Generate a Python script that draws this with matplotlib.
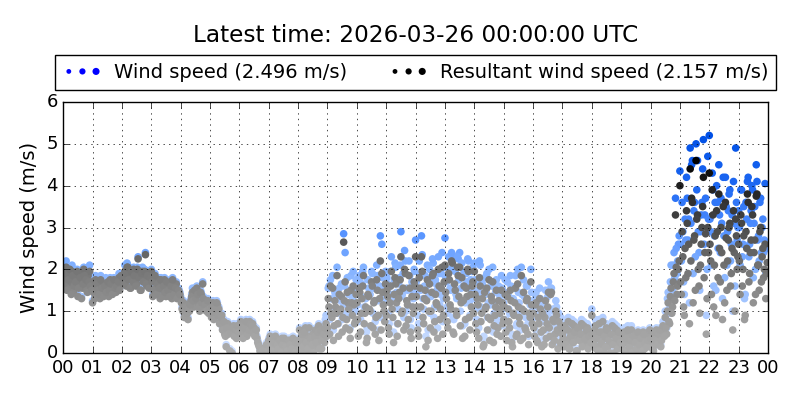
import numpy as np
import matplotlib
matplotlib.use('Agg')
import matplotlib.pyplot as plt
from matplotlib.colors import LinearSegmentedColormap
from matplotlib.legend_handler import HandlerPathCollection

# values, 20 samples per hour at minutes 0, 3, 6, ...
# plus a second set of 20 per hour at minutes 1.5, 4.5, 7.5, ...
hour_labels = ['00', '01', '02', '03', '04', '05', '06', '07', '08', '09', '10', '11',
               '12', '13', '14', '15', '16', '17', '18', '19', '20', '21', '22', '23', '00']

resultant = [
    [1.75, 1.60, 2.05, 1.85, 1.55, 1.70, 1.95, 1.45, 1.80, 1.65, 1.35, 1.90, 1.75, 1.55, 2.00, 1.60, 1.50, 1.85, 1.95, 1.70],
    [1.20, 1.55, 1.75, 1.40, 1.60, 1.30, 1.70, 1.50, 1.45, 1.65, 1.55, 1.35, 1.75, 1.60, 1.50, 1.70, 1.45, 1.65, 1.80, 1.60],
    [1.70, 1.85, 1.95, 1.60, 2.05, 1.80, 1.55, 1.90, 2.00, 1.75, 1.65, 2.25, 1.85, 1.50, 1.95, 1.80, 2.35, 1.60, 1.90, 1.75],
    [1.95, 1.35, 1.80, 1.55, 1.40, 1.75, 1.30, 1.65, 1.50, 1.75, 1.35, 1.60, 1.45, 1.70, 1.30, 1.55, 1.40, 1.65, 1.35, 1.45],
    [1.30, 1.05, 1.20, 0.90, 1.15, 0.80, 1.00, 1.25, 1.45, 1.10, 1.35, 1.55, 1.20, 1.00, 1.40, 1.65, 1.25, 1.05, 1.15, 0.95],
    [1.10, 0.85, 1.20, 1.00, 0.95, 1.15, 1.05, 0.75, 0.90, 0.60, 0.45, 0.15, 0.70, 0.55, 0.50, 0.00, 0.65, 0.45, 0.35, 0.55],
    [0.60, 0.75, 0.45, 0.70, 0.55, 0.40, 0.65, 0.75, 0.50, 0.70, 0.60, 0.45, 0.35, 0.20, 0.05, 0.00, 0.10, 0.00, 0.05, 0.15],
    [0.30, 0.40, 0.20, 0.35, 0.10, 0.25, 0.00, 0.30, 0.15, 0.35, 0.05, 0.25, 0.20, 0.10, 0.30, 0.00, 0.15, 0.25, 0.05, 0.20],
    [0.10, 0.55, 0.20, 0.35, 0.00, 0.60, 0.25, 0.40, 0.05, 0.30, 0.45, 0.15, 0.55, 0.20, 0.65, 0.35, 0.10, 0.50, 0.25, 0.70],
    [0.60, 1.10, 1.60, 0.85, 0.30, 1.25, 0.95, 0.70, 1.40, 1.05, 0.50, 2.65, 1.70, 0.80, 1.20, 0.55, 1.50, 0.90, 1.15, 0.75],
    [1.20, 0.40, 1.45, 0.95, 1.60, 0.70, 1.10, 0.35, 1.35, 1.00, 1.70, 0.60, 1.25, 0.85, 1.50, 0.30, 2.20, 1.90, 1.15, 0.75],
    [0.90, 1.35, 0.45, 1.60, 1.05, 0.25, 1.80, 1.20, 0.70, 1.45, 2.30, 1.00, 0.55, 1.90, 1.25, 0.80, 1.55, 0.35, 1.10, 1.70],
    [2.30, 1.10, 0.40, 1.55, 2.30, 0.85, 1.30, 0.15, 1.75, 1.00, 0.60, 1.45, 1.90, 0.75, 1.20, 0.35, 1.60, 1.05, 2.05, 0.90],
    [2.10, 1.30, 0.60, 1.75, 1.05, 2.15, 0.45, 1.50, 0.90, 1.85, 2.05, 1.20, 0.35, 1.60, 0.80, 1.35, 1.95, 0.55, 1.10, 1.70],
    [1.95, 0.70, 1.30, 0.35, 1.60, 0.95, 0.15, 1.45, 1.10, 0.55, 1.75, 0.80, 1.25, 0.25, 0.90, 1.50, 0.60, 1.05, 0.40, 1.20],
    [0.80, 1.40, 0.30, 1.05, 0.60, 1.25, 0.15, 0.90, 1.55, 0.45, 1.10, 0.70, 1.85, 0.35, 1.00, 0.55, 1.30, 0.20, 0.85, 1.15],
    [0.95, 0.40, 1.20, 0.25, 0.70, 1.05, 0.15, 0.55, 0.85, 0.35, 1.10, 0.60, 1.40, 0.20, 0.75, 0.45, 0.90, 0.10, 0.50, 0.65],
    [0.45, 0.15, 0.60, 0.30, 0.75, 0.10, 0.50, 0.25, 0.65, 0.35, 0.05, 0.55, 0.40, 0.70, 0.20, 0.45, 0.30, 0.60, 0.15, 0.50],
    [0.90, 0.30, 0.55, 0.10, 0.40, 0.70, 0.20, 0.50, 0.05, 0.35, 0.60, 0.15, 0.45, 0.25, 0.65, 0.00, 0.40, 0.55, 0.20, 0.30],
    [0.35, 0.10, 0.50, 0.25, 0.00, 0.40, 0.15, 0.55, 0.30, 0.05, 0.45, 0.20, 0.35, 0.00, 0.25, 0.50, 0.10, 0.30, 0.40, 0.15],
    [0.20, 0.45, 0.05, 0.35, 0.55, 0.25, 0.40, 0.15, 0.50, 0.60, 0.85, 0.45, 1.20, 0.70, 1.55, 1.10, 1.90, 3.30, 1.40, 2.00],
    [4.00, 1.40, 2.30, 0.90, 1.80, 3.10, 2.60, 4.40, 3.70, 1.20, 2.80, 4.60, 3.30, 1.60, 2.10, 3.00, 4.20, 2.40, 0.45, 3.00],
    [4.30, 2.20, 3.90, 1.10, 2.80, 3.40, 1.80, 2.50, 3.00, 0.80, 2.10, 3.60, 1.50, 2.70, 3.10, 1.90, 0.55, 2.40, 3.20, 2.00],
    [2.60, 1.40, 3.10, 2.00, 0.80, 2.90, 3.80, 1.70, 2.40, 3.50, 1.20, 2.70, 3.75, 2.10, 1.50, 3.00, 2.30, 1.80, 2.60, 1.90],
]

wind_speed = [
    [1.80, 1.65, 2.20, 1.90, 1.60, 1.75, 2.10, 1.50, 1.85, 1.70, 1.40, 1.95, 1.85, 1.60, 2.05, 1.65, 1.55, 1.90, 2.10, 1.75],
    [1.25, 1.65, 1.85, 1.45, 1.70, 1.35, 1.75, 1.55, 1.50, 1.80, 1.60, 1.40, 1.80, 1.65, 1.55, 1.75, 1.50, 1.70, 1.90, 1.65],
    [1.75, 1.90, 2.10, 1.65, 2.10, 1.85, 1.60, 1.95, 2.05, 1.80, 1.70, 2.30, 1.95, 1.55, 2.05, 1.85, 2.40, 1.65, 1.95, 1.80],
    [2.00, 1.40, 1.85, 1.60, 1.45, 1.80, 1.35, 1.70, 1.55, 1.80, 1.40, 1.65, 1.50, 1.75, 1.35, 1.60, 1.45, 1.70, 1.40, 1.50],
    [1.35, 1.10, 1.25, 0.95, 1.20, 0.85, 1.05, 1.30, 1.55, 1.15, 1.40, 1.60, 1.25, 1.05, 1.45, 1.70, 1.30, 1.10, 1.20, 1.00],
    [1.15, 0.90, 1.25, 1.05, 1.00, 1.20, 1.10, 0.80, 0.95, 0.65, 0.50, 0.20, 0.75, 0.60, 0.55, 0.05, 0.70, 0.50, 0.40, 0.60],
    [0.65, 0.80, 0.50, 0.75, 0.60, 0.45, 0.70, 0.80, 0.55, 0.75, 0.65, 0.50, 0.40, 0.25, 0.10, 0.05, 0.15, 0.05, 0.10, 0.20],
    [0.35, 0.45, 0.25, 0.40, 0.15, 0.30, 0.05, 0.35, 0.20, 0.40, 0.10, 0.30, 0.25, 0.15, 0.35, 0.05, 0.20, 0.30, 0.10, 0.25],
    [0.15, 0.60, 0.25, 0.40, 0.05, 0.65, 0.30, 0.45, 0.10, 0.35, 0.50, 0.20, 0.60, 0.25, 0.70, 0.40, 0.15, 0.60, 0.30, 0.90],
    [0.90, 1.60, 1.75, 1.30, 0.55, 1.45, 1.40, 0.95, 1.55, 1.25, 0.80, 2.85, 2.40, 1.15, 1.50, 0.90, 1.85, 1.30, 1.45, 1.00],
    [1.40, 0.75, 1.70, 1.35, 1.95, 1.10, 1.30, 0.60, 1.55, 1.40, 1.95, 0.95, 1.60, 1.25, 1.85, 0.55, 2.80, 2.60, 1.55, 1.20],
    [1.30, 1.65, 0.70, 1.95, 1.40, 0.50, 2.15, 1.45, 1.05, 1.80, 2.90, 1.40, 0.85, 2.20, 1.55, 1.15, 1.85, 0.60, 1.50, 2.00],
    [2.70, 1.45, 0.70, 1.85, 2.80, 1.30, 1.60, 0.40, 2.10, 1.40, 0.95, 1.80, 2.15, 1.10, 1.65, 0.60, 1.90, 1.40, 2.40, 1.30],
    [2.75, 1.70, 0.95, 2.00, 1.50, 2.35, 0.80, 1.95, 1.30, 2.25, 2.40, 1.55, 0.65, 1.95, 1.20, 1.70, 2.20, 0.90, 1.50, 2.05],
    [2.15, 1.05, 1.70, 0.60, 2.10, 1.35, 0.35, 1.80, 1.45, 0.85, 2.00, 1.15, 1.60, 0.50, 1.20, 1.75, 0.90, 1.40, 0.65, 1.55],
    [1.20, 1.75, 0.55, 1.40, 0.95, 1.60, 0.35, 1.25, 1.85, 0.70, 1.45, 1.00, 2.05, 0.60, 1.35, 0.85, 1.60, 0.40, 1.15, 1.45],
    [1.25, 0.60, 1.45, 0.45, 0.95, 1.30, 0.30, 0.75, 1.10, 0.55, 1.35, 0.85, 1.55, 0.35, 1.00, 0.65, 1.10, 0.20, 0.70, 0.85],
    [0.55, 0.20, 0.70, 0.40, 0.85, 0.15, 0.60, 0.30, 0.75, 0.45, 0.10, 0.65, 0.50, 0.80, 0.25, 0.55, 0.35, 0.70, 0.20, 0.60],
    [1.05, 0.35, 0.65, 0.15, 0.50, 0.80, 0.25, 0.60, 0.10, 0.40, 0.70, 0.20, 0.55, 0.30, 0.75, 0.05, 0.50, 0.65, 0.25, 0.35],
    [0.40, 0.15, 0.60, 0.30, 0.05, 0.45, 0.20, 0.65, 0.35, 0.10, 0.50, 0.25, 0.40, 0.05, 0.30, 0.55, 0.15, 0.35, 0.45, 0.20],
    [0.25, 0.50, 0.10, 0.40, 0.60, 0.30, 0.45, 0.20, 0.55, 0.70, 1.00, 0.60, 1.45, 0.95, 2.10, 1.50, 2.40, 3.70, 1.90, 2.60],
    [4.35, 2.20, 2.90, 1.40, 2.70, 3.70, 3.20, 4.90, 4.50, 1.90, 3.60, 5.00, 4.60, 2.40, 2.90, 3.60, 5.10, 3.30, 0.90, 4.70],
    [5.20, 2.90, 4.30, 1.60, 3.60, 4.00, 2.50, 3.30, 3.70, 1.30, 2.80, 4.20, 2.10, 3.40, 3.90, 2.60, 1.00, 3.10, 4.90, 2.70],
    [3.40, 2.10, 3.90, 2.60, 1.30, 3.60, 4.10, 2.30, 3.10, 4.00, 1.80, 3.50, 4.50, 2.70, 2.20, 3.70, 3.00, 2.40, 4.05, 2.50],
]

resultant_b = [
    [1.65, 1.90, 1.50, 1.75, 2.00, 1.40, 1.85, 1.60, 1.70, 1.95, 1.55, 1.80, 1.30, 1.65, 1.85, 1.75, 1.45, 1.70, 1.60, 1.50],
    [1.45, 1.30, 1.65, 1.50, 1.40, 1.75, 1.55, 1.35, 1.60, 1.45, 1.70, 1.50, 1.65, 1.40, 1.75, 1.55, 1.60, 1.70, 1.50, 1.85],
    [1.80, 1.65, 1.90, 2.05, 1.75, 1.55, 1.95, 1.70, 1.85, 1.60, 2.00, 1.80, 1.50, 1.90, 1.70, 1.95, 1.65, 1.85, 1.55, 1.80],
    [1.70, 1.50, 1.85, 1.40, 1.65, 1.55, 1.75, 1.35, 1.60, 1.45, 1.70, 1.50, 1.35, 1.60, 1.75, 1.40, 1.55, 1.30, 1.50, 1.40],
    [1.20, 1.00, 0.85, 1.10, 0.95, 1.05, 1.15, 1.35, 1.25, 1.50, 1.30, 1.40, 1.10, 1.45, 1.20, 1.30, 1.15, 1.00, 1.25, 1.05],
    [0.95, 1.10, 0.80, 1.05, 1.20, 0.90, 0.70, 0.85, 0.55, 0.75, 0.40, 0.60, 0.45, 0.05, 0.50, 0.60, 0.40, 0.55, 0.65, 0.50],
    [0.50, 0.65, 0.35, 0.60, 0.75, 0.45, 0.55, 0.70, 0.65, 0.50, 0.40, 0.55, 0.25, 0.15, 0.00, 0.05, 0.00, 0.10, 0.20, 0.05],
    [0.15, 0.35, 0.05, 0.25, 0.40, 0.20, 0.10, 0.30, 0.00, 0.20, 0.35, 0.15, 0.05, 0.30, 0.20, 0.10, 0.35, 0.00, 0.25, 0.30],
    [0.30, 0.05, 0.45, 0.15, 0.50, 0.25, 0.10, 0.60, 0.35, 0.20, 0.00, 0.40, 0.25, 0.50, 0.10, 0.55, 0.30, 0.45, 0.60, 0.40],
    [1.30, 0.45, 0.95, 1.55, 0.65, 1.10, 1.85, 0.40, 1.00, 1.35, 0.85, 1.25, 0.60, 1.45, 1.05, 0.35, 1.20, 1.60, 0.70, 1.40],
    [0.80, 1.55, 0.50, 1.30, 1.85, 0.95, 0.25, 1.40, 1.05, 0.65, 1.60, 1.20, 0.45, 1.75, 0.90, 1.30, 0.55, 1.45, 1.00, 1.65],
    [1.50, 0.60, 1.20, 1.95, 0.85, 1.40, 1.65, 0.40, 1.30, 1.75, 0.95, 1.55, 2.00, 0.65, 1.15, 1.85, 0.50, 1.35, 0.95, 1.60],
    [1.35, 0.55, 1.80, 1.10, 1.95, 0.70, 1.50, 1.25, 0.30, 1.65, 1.00, 1.85, 0.50, 1.40, 1.15, 2.00, 0.80, 1.55, 0.45, 1.70],
    [1.45, 0.75, 1.90, 1.15, 2.20, 0.50, 1.65, 1.00, 2.05, 1.35, 0.65, 1.80, 1.25, 0.40, 1.55, 2.00, 0.85, 1.40, 1.60, 0.95],
    [1.40, 0.50, 1.15, 1.80, 0.75, 1.30, 0.20, 1.05, 1.55, 0.85, 0.30, 1.35, 1.70, 0.65, 1.10, 0.45, 1.25, 0.95, 1.50, 0.70],
    [1.10, 0.50, 1.35, 0.75, 1.50, 0.25, 0.95, 1.20, 0.40, 1.65, 0.85, 0.30, 1.05, 1.45, 0.60, 1.25, 0.45, 0.95, 1.70, 0.70],
    [0.60, 1.15, 0.30, 0.85, 1.30, 0.50, 0.95, 0.20, 1.25, 0.70, 1.45, 0.40, 1.45, 0.80, 0.30, 1.00, 0.55, 0.75, 0.25, 0.60],
    [0.35, 0.65, 0.20, 0.55, 0.10, 0.40, 0.70, 0.25, 0.50, 0.05, 0.60, 0.30, 0.45, 0.15, 0.65, 0.35, 0.55, 0.10, 0.40, 0.25],
    [0.45, 0.20, 0.65, 0.35, 0.05, 0.50, 0.25, 0.75, 0.40, 0.15, 0.55, 0.30, 0.00, 0.45, 0.20, 0.60, 0.35, 0.10, 0.50, 0.25],
    [0.20, 0.45, 0.05, 0.35, 0.55, 0.15, 0.30, 0.00, 0.40, 0.25, 0.10, 0.50, 0.20, 0.35, 0.05, 0.45, 0.25, 0.15, 0.30, 0.55],
    [0.35, 0.10, 0.50, 0.30, 0.20, 0.45, 0.55, 0.30, 0.65, 0.40, 0.60, 1.00, 0.75, 1.35, 0.95, 1.70, 1.25, 2.05, 1.60, 2.20],
    [1.70, 2.90, 1.10, 2.50, 3.40, 1.90, 0.70, 2.20, 3.60, 2.70, 1.50, 3.20, 2.00, 0.95, 2.60, 3.50, 1.80, 2.85, 1.30, 2.40],
    [2.60, 1.40, 3.30, 2.10, 0.90, 2.90, 3.80, 1.70, 2.40, 3.50, 1.20, 2.75, 2.20, 3.00, 1.60, 2.50, 3.40, 1.00, 2.80, 2.30],
    [2.20, 3.30, 1.60, 2.80, 0.90, 2.50, 3.60, 1.90, 2.70, 3.30, 2.40, 1.40, 3.80, 2.10, 2.90, 1.70, 2.50, 2.00, 1.30, 2.16],
]

wind_speed_b = [
    [1.70, 1.95, 1.55, 1.80, 2.05, 1.45, 1.90, 1.65, 1.75, 2.00, 1.60, 1.85, 1.35, 1.70, 1.95, 1.80, 1.50, 1.75, 1.65, 1.55],
    [1.50, 1.35, 1.75, 1.55, 1.45, 1.85, 1.60, 1.40, 1.65, 1.50, 1.75, 1.55, 1.70, 1.45, 1.80, 1.60, 1.65, 1.75, 1.55, 1.90],
    [1.85, 1.70, 1.95, 2.15, 1.80, 1.60, 2.00, 1.75, 1.90, 1.65, 2.05, 1.85, 1.55, 1.95, 1.75, 2.00, 1.70, 1.90, 1.60, 1.85],
    [1.75, 1.55, 1.90, 1.45, 1.70, 1.60, 1.80, 1.40, 1.65, 1.50, 1.75, 1.55, 1.40, 1.65, 1.80, 1.45, 1.60, 1.35, 1.55, 1.45],
    [1.25, 1.05, 0.90, 1.15, 1.00, 1.10, 1.20, 1.40, 1.30, 1.55, 1.35, 1.45, 1.15, 1.50, 1.25, 1.35, 1.20, 1.05, 1.30, 1.10],
    [1.00, 1.15, 0.85, 1.10, 1.25, 0.95, 0.75, 0.90, 0.60, 0.80, 0.45, 0.65, 0.50, 0.10, 0.55, 0.65, 0.45, 0.60, 0.70, 0.55],
    [0.55, 0.70, 0.40, 0.65, 0.80, 0.50, 0.60, 0.75, 0.70, 0.55, 0.45, 0.60, 0.30, 0.20, 0.05, 0.10, 0.05, 0.15, 0.25, 0.10],
    [0.20, 0.40, 0.10, 0.30, 0.45, 0.25, 0.15, 0.35, 0.05, 0.25, 0.40, 0.20, 0.10, 0.35, 0.25, 0.15, 0.40, 0.05, 0.30, 0.35],
    [0.35, 0.10, 0.50, 0.20, 0.55, 0.30, 0.15, 0.65, 0.40, 0.25, 0.05, 0.45, 0.30, 0.60, 0.15, 0.65, 0.40, 0.55, 0.80, 0.60],
    [1.55, 0.80, 1.30, 1.85, 1.00, 1.50, 2.05, 0.70, 1.35, 1.65, 1.20, 1.60, 0.95, 1.80, 1.40, 0.60, 1.50, 1.95, 1.05, 1.75],
    [1.15, 1.85, 0.80, 1.65, 2.05, 1.30, 0.50, 1.75, 1.40, 1.00, 1.90, 1.55, 0.75, 2.10, 1.25, 1.60, 0.85, 1.80, 1.35, 1.95],
    [1.80, 0.95, 1.60, 2.30, 1.25, 1.75, 2.05, 0.70, 1.65, 2.10, 1.35, 1.90, 2.45, 1.00, 1.50, 2.20, 0.80, 1.70, 1.30, 1.95],
    [1.70, 0.90, 2.20, 1.50, 2.35, 1.05, 1.85, 1.60, 0.55, 2.00, 1.35, 2.25, 0.85, 1.75, 1.50, 2.30, 1.15, 1.90, 0.75, 2.05],
    [1.80, 1.10, 2.30, 1.55, 2.40, 0.85, 2.00, 1.40, 2.30, 1.75, 1.00, 2.15, 1.60, 0.70, 1.90, 2.25, 1.20, 1.75, 1.95, 1.30],
    [1.75, 0.80, 1.50, 2.20, 1.10, 1.65, 0.40, 1.40, 1.90, 1.20, 0.55, 1.70, 2.05, 0.95, 1.45, 0.75, 1.60, 1.30, 1.85, 1.05],
    [1.45, 0.80, 1.70, 1.05, 1.85, 0.45, 1.30, 1.55, 0.65, 2.00, 1.20, 0.55, 1.40, 1.75, 0.90, 1.60, 0.70, 1.25, 2.00, 1.00],
    [0.85, 1.40, 0.50, 1.10, 1.55, 0.75, 1.20, 0.35, 1.50, 0.95, 1.70, 0.60, 1.55, 1.05, 0.45, 1.25, 0.75, 0.95, 0.40, 0.80],
    [0.45, 0.75, 0.25, 0.65, 0.15, 0.50, 0.80, 0.30, 0.60, 0.10, 0.70, 0.35, 0.55, 0.20, 0.75, 0.45, 0.65, 0.15, 0.50, 0.30],
    [0.55, 0.25, 0.80, 0.45, 0.10, 0.60, 0.30, 0.85, 0.50, 0.20, 0.65, 0.35, 0.05, 0.55, 0.25, 0.70, 0.40, 0.15, 0.60, 0.30],
    [0.25, 0.50, 0.10, 0.40, 0.65, 0.20, 0.35, 0.05, 0.45, 0.30, 0.15, 0.55, 0.25, 0.40, 0.10, 0.50, 0.30, 0.20, 0.35, 0.60],
    [0.40, 0.15, 0.55, 0.35, 0.25, 0.50, 0.60, 0.35, 0.75, 0.50, 0.80, 1.30, 1.05, 1.70, 1.35, 2.10, 1.80, 2.50, 2.20, 2.80],
    [2.60, 3.60, 1.70, 3.20, 4.20, 2.70, 1.20, 3.10, 4.60, 3.40, 2.30, 3.90, 2.90, 1.50, 3.30, 4.40, 2.60, 3.70, 2.00, 3.20],
    [3.20, 2.10, 3.90, 2.80, 1.50, 3.60, 4.50, 2.40, 3.10, 4.20, 1.80, 3.50, 2.90, 3.80, 2.20, 3.30, 4.10, 1.60, 3.60, 3.00],
    [3.00, 3.90, 2.30, 3.50, 1.40, 3.20, 4.20, 2.60, 3.40, 3.90, 3.10, 2.00, 4.10, 2.80, 3.60, 2.40, 3.20, 2.70, 1.90, 2.50],
]

latest_wind = 2.496
latest_resultant = 2.157

# sample times in hours
times_a = [h + m / 60.0 for h in range(24) for m in range(0, 60, 3)]
times_b = [h + (m + 1.5) / 60.0 for h in range(24) for m in range(0, 60, 3)]
times = np.array(times_a + times_b)
ws = np.concatenate([np.ravel(wind_speed), np.ravel(wind_speed_b)])
rs = np.concatenate([np.ravel(resultant), np.ravel(resultant_b)])

blue_map = LinearSegmentedColormap.from_list('ws', [
    (0.0, '#cfe0ff'), (1.0 / 5.2, '#aecbff'), (2.0 / 5.2, '#85b3ff'),
    (3.0 / 5.2, '#4f8eff'), (4.0 / 5.2, '#1e68f2'), (1.0, '#0050e6')])
grey_map = LinearSegmentedColormap.from_list('rs', [
    (0.0, '#adadad'), (1.0 / 4.6, '#999999'), (2.0 / 4.6, '#747474'),
    (3.0 / 4.6, '#4b4b4b'), (4.0 / 4.6, '#202020'), (1.0, '#000000')])

plt.style.use('classic')
fig = plt.figure(figsize=(8, 4), dpi=100, facecolor='white')
ax = fig.add_axes([0.079, 0.1175, 0.881, 0.6275])

ax.scatter(times, ws, c=ws, cmap=blue_map, vmin=0, vmax=5.2, s=30, edgecolors='none')
ax.scatter(times, rs, c=rs, cmap=grey_map, vmin=0, vmax=4.6, s=30, edgecolors='none')

ax.set_xlim(0, 24)
ax.set_ylim(0, 6)
ax.set_xticks(range(25))
ax.set_xticklabels(hour_labels, fontsize=13)
ax.set_yticks(range(7))
ax.tick_params(axis='y', labelsize=13)
ax.set_ylabel('Wind speed (m/s)', fontsize=14)
ax.grid(True, linestyle=':', color='k')

fig.text(0.519, 0.9125, 'Latest time: 2026-03-26 00:00:00 UTC', fontsize=16.7,
         ha='center', va='center')

h1 = ax.scatter([], [], s=20, color='blue', edgecolors='none')
h2 = ax.scatter([], [], s=20, color='black', edgecolors='none')
dots = HandlerPathCollection(sizes=[12, 20, 26], yoffsets=[0.5, 0.5, 0.5])
fig.legend([h1, h2],
           ['Wind speed (%.3f m/s)' % latest_wind,
            'Resultant wind speed (%.3f m/s)' % latest_resultant],
           loc='lower left', bbox_to_anchor=(0.069, 0.775, 0.901, 0.0875),
           mode='expand', ncol=2, scatterpoints=3,
           handler_map={h1: dots, h2: dots},
           fontsize=14, frameon=True, borderaxespad=0, handletextpad=0.6)

fig.savefig('out.png', dpi=100, facecolor='white')
